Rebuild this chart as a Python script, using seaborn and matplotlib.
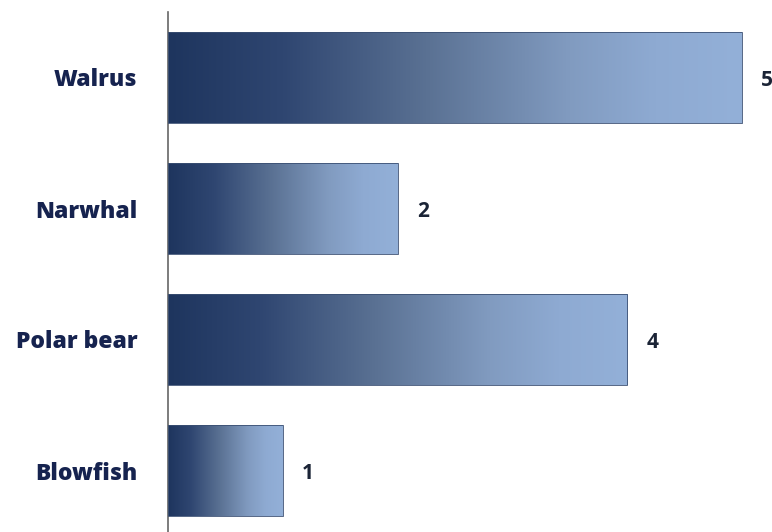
import numpy as np
import pandas as pd
import matplotlib
matplotlib.use("Agg")
import matplotlib.pyplot as plt
from matplotlib.colors import LinearSegmentedColormap
import seaborn as sns

categories = ["Walrus", "Narwhal", "Polar bear", "Blowfish"]
values = [5, 2, 4, 1]

df = pd.DataFrame({"animal": categories, "count": values})

sns.set_theme(style="white")
plt.rcParams["font.family"] = ["Open Sans", "DejaVu Sans"]

fig = plt.figure(figsize=(7.72, 5.32), dpi=100)
ax = fig.add_axes([168 / 772, -4 / 532, 1 - 168 / 772, (532 - 12 + 4) / 532])

sns.barplot(data=df, y="animal", x="count", orient="h", ax=ax,
            color="#8eaad6", width=0.70, saturation=1, linewidth=0)

cmap = LinearSegmentedColormap.from_list(
    "grad",
    [(0.0, "#1e355e"), (0.2, "#2f4671"), (0.45, "#5a7193"),
     (0.7, "#819bc0"), (0.85, "#8eaad2"), (1.0, "#93b0d8")])
grad = np.linspace(0, 1, 256).reshape(1, -1)
for p in ax.patches:
    x0, y0 = p.get_x(), p.get_y()
    w, h = p.get_width(), p.get_height()
    p.set_facecolor("none")
    p.set_edgecolor("#3a4f72")
    p.set_linewidth(0.6)
    p.set_zorder(3)
    im = ax.imshow(grad, cmap=cmap, aspect="auto",
                   extent=[x0, x0 + w, y0 + h, y0], zorder=2, interpolation="bicubic")
    im.set_clip_path(p)

ax.set_xlim(0, (772 - 168) / 114.8)
ax.set_ylim(3.5, -0.5)

for i, v in enumerate(values):
    ax.text(v + 0.22, i + 0.02, str(v), va="center", ha="center",
            fontsize=15, fontweight="bold", color="#1b2436")

ax.set_xlabel("")
ax.set_ylabel("")
ax.set_xticks([])
ax.tick_params(axis="y", length=0, pad=22)
for lbl in ax.get_yticklabels():
    lbl.set_fontweight("heavy")
    lbl.set_fontsize(16.5)
    lbl.set_color("#16234f")

for s in ["top", "right", "bottom"]:
    ax.spines[s].set_visible(False)
ax.spines["left"].set_color("#666666")
ax.spines["left"].set_linewidth(1.2)

fig.savefig("out.png", dpi=100)
